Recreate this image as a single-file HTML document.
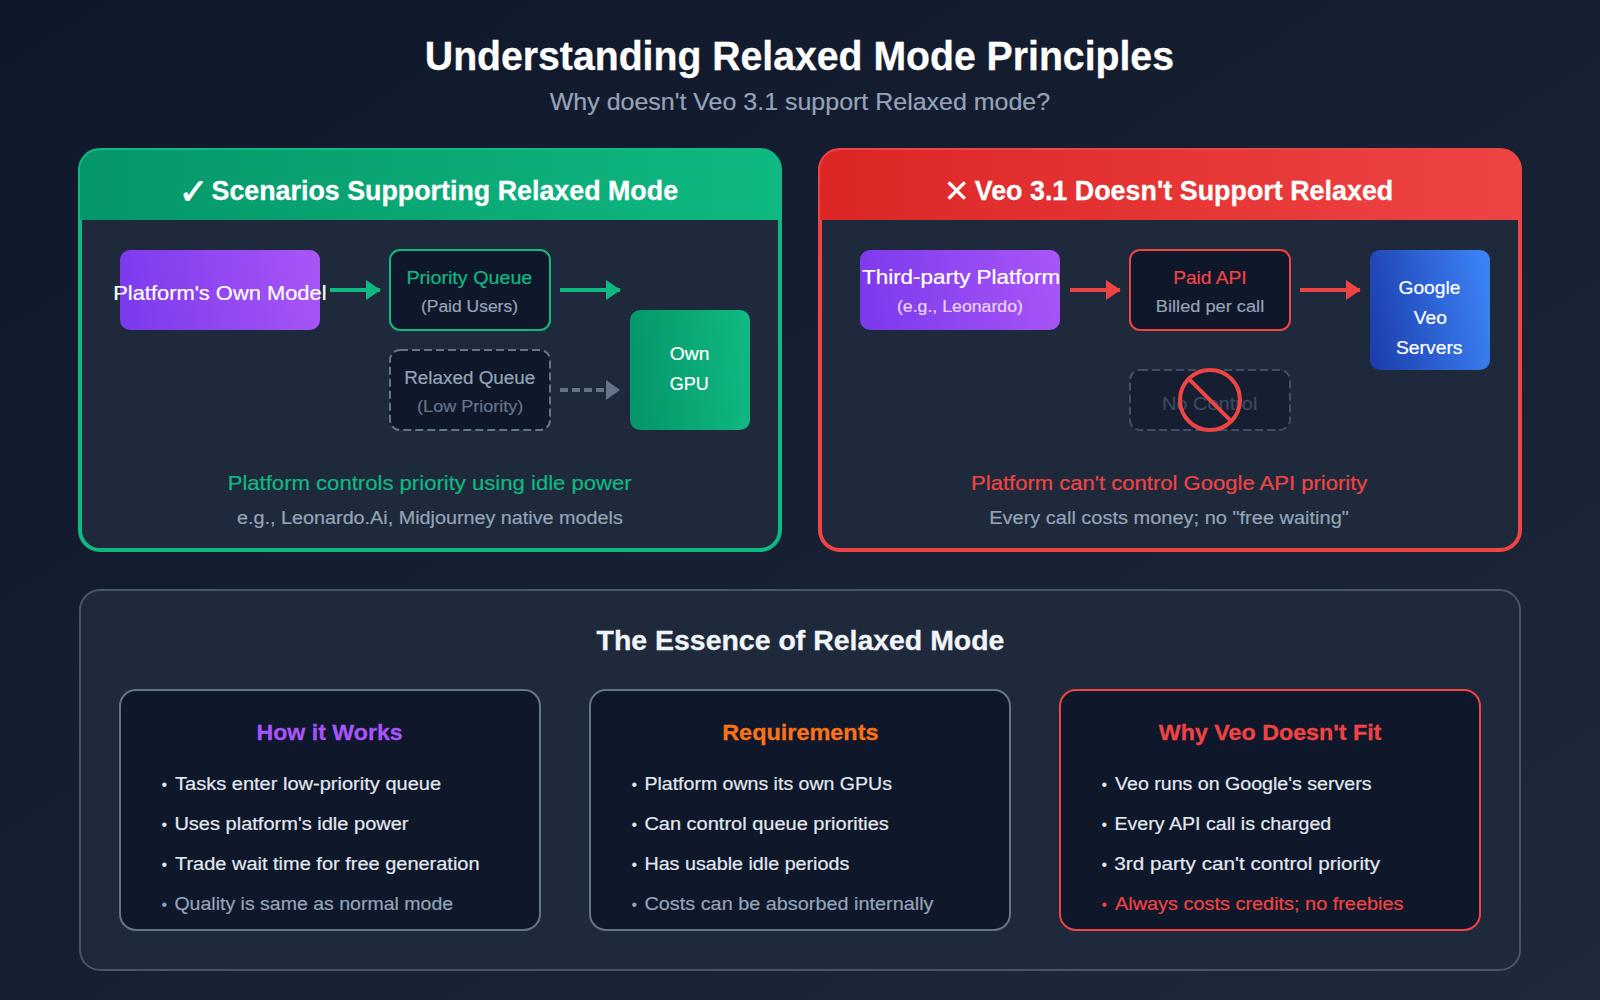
<!DOCTYPE html>
<html lang="en">
<head>
<meta charset="utf-8">
<title>Understanding Relaxed Mode Principles</title>
<style>
html,body{margin:0;padding:0;background:#0f172a;}
body{width:1600px;height:1000px;overflow:hidden;}
svg{display:block;}
text{font-family:"Liberation Sans",sans-serif;}
.ic{font-family:"DejaVu Sans","Liberation Sans",sans-serif;}
</style>
</head>
<body>
<svg width="1600" height="1000" viewBox="0 0 800 500">
<defs>
<linearGradient id="bg" x1="0" y1="0" x2="1" y2="1"><stop offset="0" stop-color="#0f172a"/><stop offset="1" stop-color="#1e293b"/></linearGradient>
<linearGradient id="gr" x1="0" y1="0" x2="1" y2="0"><stop offset="0" stop-color="#059669"/><stop offset="1" stop-color="#10b981"/></linearGradient>
<linearGradient id="grsq" x1="0" y1="0.55" x2="1" y2="0.45"><stop offset="0" stop-color="#059669"/><stop offset="1" stop-color="#10b981"/></linearGradient>
<linearGradient id="rd" x1="0" y1="0" x2="1" y2="0"><stop offset="0" stop-color="#dc2626"/><stop offset="1" stop-color="#ef4444"/></linearGradient>
<linearGradient id="pu" x1="0" y1="0.54" x2="1" y2="0.46"><stop offset="0" stop-color="#7c3aed"/><stop offset="1" stop-color="#a855f7"/></linearGradient>
<linearGradient id="bl" x1="0" y1="0.6" x2="1" y2="0.4"><stop offset="0" stop-color="#1e40af"/><stop offset="1" stop-color="#3b82f6"/></linearGradient>
</defs>
<rect width="800" height="500" fill="url(#bg)"/>

<!-- Title -->
<text x="212.42" y="35" font-size="20.5" font-weight="bold" fill="#ffffff" stroke="#ffffff" stroke-width="0.15" textLength="374.56" lengthAdjust="spacingAndGlyphs">Understanding Relaxed Mode Principles</text>
<text x="274.88" y="55" font-size="11.85" fill="#94a3b8" stroke="#94a3b8" stroke-width="0.1" textLength="250.20" lengthAdjust="spacingAndGlyphs">Why doesn't Veo 3.1 support Relaxed mode?</text>

<!-- Left panel -->
<rect x="40" y="75" width="350" height="200" rx="10" fill="#1e293b" stroke="#10b981" stroke-width="2"/>
<path d="M40,110 V85 a10,10 0 0 1 10,-10 H380 a10,10 0 0 1 10,10 V110 Z" fill="url(#gr)"/>
<text><tspan class="ic" x="89.2" y="101.8" font-size="18" fill="#ffffff" stroke="#ffffff" stroke-width="0.4">✓</tspan> <tspan x="105.75" y="100" font-size="13.4" font-weight="bold" fill="#ffffff" stroke="#ffffff" stroke-width="0.15" textLength="233.28" lengthAdjust="spacingAndGlyphs">Scenarios Supporting Relaxed Mode</tspan></text>

<rect x="60" y="125" width="100" height="40" rx="5" fill="url(#pu)"/>
<text x="56.59" y="150" font-size="10.15" fill="#ffffff" stroke="#ffffff" stroke-width="0.1" textLength="106.69" lengthAdjust="spacingAndGlyphs">Platform's Own Model</text>
<path d="M165,145 H190" stroke="#10b981" stroke-width="2"/><path d="M183,140 L190.4,145 L183,150 Z" fill="#10b981"/>
<rect x="195" y="125" width="80" height="40" rx="5" fill="#0f172a" stroke="#10b981" stroke-width="1"/>
<text x="203.21" y="142" font-size="9.15" fill="#10b981" stroke="#10b981" stroke-width="0.1" textLength="62.96" lengthAdjust="spacingAndGlyphs">Priority Queue</text>
<text x="210.46" y="156" font-size="8.15" fill="#94a3b8" stroke="#94a3b8" stroke-width="0.1" textLength="48.55" lengthAdjust="spacingAndGlyphs">(Paid Users)</text>
<path d="M280,145 H310" stroke="#10b981" stroke-width="2"/><path d="M303,140 L310.4,145 L303,150 Z" fill="#10b981"/>
<rect x="195" y="175" width="80" height="40" rx="5" fill="#0f172a" stroke="#64748b" stroke-width="1" stroke-dasharray="4,2"/>
<text x="202.13" y="192" font-size="9.15" fill="#94a3b8" stroke="#94a3b8" stroke-width="0.1" textLength="65.49" lengthAdjust="spacingAndGlyphs">Relaxed Queue</text>
<text x="208.55" y="206" font-size="8.15" fill="#64748b" stroke="#64748b" stroke-width="0.1" textLength="53.11" lengthAdjust="spacingAndGlyphs">(Low Priority)</text>
<path d="M280,195 H303" stroke="#64748b" stroke-width="2" stroke-dasharray="4,2"/><path d="M303,190 L310,195 L303,200 Z" fill="#64748b"/>
<rect x="315" y="155" width="60" height="60" rx="5" fill="url(#grsq)"/>
<text x="334.85" y="180" font-size="9.15" fill="#ffffff" stroke="#ffffff" stroke-width="0.1" textLength="19.84" lengthAdjust="spacingAndGlyphs">Own</text>
<text x="334.88" y="195" font-size="9.15" fill="#ffffff" stroke="#ffffff" stroke-width="0.1" textLength="19.55" lengthAdjust="spacingAndGlyphs">GPU</text>
<text x="113.83" y="245" font-size="10.15" fill="#10b981" stroke="#10b981" stroke-width="0.1" textLength="202.04" lengthAdjust="spacingAndGlyphs">Platform controls priority using idle power</text>
<text x="118.56" y="262" font-size="9.15" fill="#94a3b8" stroke="#94a3b8" stroke-width="0.1" textLength="192.87" lengthAdjust="spacingAndGlyphs">e.g., Leonardo.Ai, Midjourney native models</text>

<!-- Right panel -->
<rect x="410" y="75" width="350" height="200" rx="10" fill="#1e293b" stroke="#ef4444" stroke-width="2"/>
<path d="M410,110 V85 a10,10 0 0 1 10,-10 H750 a10,10 0 0 1 10,10 V110 Z" fill="url(#rd)"/>
<text><tspan class="ic" x="471.7" y="101.1" font-size="15.75" fill="#ffffff">✕</tspan> <tspan x="487.35" y="100" font-size="13.4" font-weight="bold" fill="#ffffff" stroke="#ffffff" stroke-width="0.15" textLength="209.29" lengthAdjust="spacingAndGlyphs">Veo 3.1 Doesn't Support Relaxed</tspan></text>

<rect x="430" y="125" width="100" height="40" rx="5" fill="url(#pu)"/>
<text x="431.00" y="142" font-size="10.15" fill="#ffffff" stroke="#ffffff" stroke-width="0.1" textLength="99.04" lengthAdjust="spacingAndGlyphs">Third-party Platform</text>
<text x="448.46" y="156" font-size="8.15" fill="#e9d5ff" stroke="#e9d5ff" stroke-width="0.1" textLength="63.01" lengthAdjust="spacingAndGlyphs">(e.g., Leonardo)</text>
<path d="M535,145 H560" stroke="#ef4444" stroke-width="2"/><path d="M553,140 L560.4,145 L553,150 Z" fill="#ef4444"/>
<rect x="565" y="125" width="80" height="40" rx="5" fill="#0f172a" stroke="#ef4444" stroke-width="1"/>
<text x="586.60" y="142" font-size="9.15" fill="#ef4444" stroke="#ef4444" stroke-width="0.1" textLength="36.75" lengthAdjust="spacingAndGlyphs">Paid API</text>
<text x="577.94" y="156" font-size="8.15" fill="#94a3b8" stroke="#94a3b8" stroke-width="0.1" textLength="54.16" lengthAdjust="spacingAndGlyphs">Billed per call</text>
<path d="M650,145 H680" stroke="#ef4444" stroke-width="2"/><path d="M673,140 L680.4,145 L673,150 Z" fill="#ef4444"/>
<rect x="685" y="125" width="60" height="60" rx="5" fill="url(#bl)"/>
<text x="699.22" y="147" font-size="9.15" fill="#ffffff" stroke="#ffffff" stroke-width="0.1" textLength="31.00" lengthAdjust="spacingAndGlyphs">Google</text>
<text x="706.88" y="162" font-size="9.15" fill="#ffffff" stroke="#ffffff" stroke-width="0.1" textLength="16.53" lengthAdjust="spacingAndGlyphs">Veo</text>
<text x="697.97" y="177" font-size="9.15" fill="#ffffff" stroke="#ffffff" stroke-width="0.1" textLength="33.28" lengthAdjust="spacingAndGlyphs">Servers</text>
<rect x="565" y="185" width="80" height="30" rx="5" fill="#0f172a" stroke="#64748b" stroke-width="1" stroke-dasharray="4,2" opacity="0.5"/>
<text x="580.95" y="205" font-size="9.15" fill="#64748b" stroke="#64748b" stroke-width="0.1" textLength="47.76" lengthAdjust="spacingAndGlyphs" opacity="0.5">No Control</text>
<circle cx="605" cy="200" r="15" fill="none" stroke="#ef4444" stroke-width="2"/>
<path d="M594.4,189.4 L615.6,210.6" stroke="#ef4444" stroke-width="2"/>
<text x="485.56" y="245" font-size="10.15" fill="#ef4444" stroke="#ef4444" stroke-width="0.1" textLength="198.12" lengthAdjust="spacingAndGlyphs">Platform can't control Google API priority</text>
<text x="494.60" y="262" font-size="9.15" fill="#94a3b8" stroke="#94a3b8" stroke-width="0.1" textLength="179.84" lengthAdjust="spacingAndGlyphs">Every call costs money; no "free waiting"</text>

<!-- Bottom panel -->
<rect x="40" y="295" width="720" height="190" rx="10" fill="#1e293b" stroke="#475569" stroke-width="1"/>
<text x="298.30" y="325" font-size="13.85" font-weight="bold" fill="#f1f5f9" stroke="#f1f5f9" stroke-width="0.15" textLength="203.91" lengthAdjust="spacingAndGlyphs">The Essence of Relaxed Mode</text>

<rect x="60" y="345" width="210" height="120" rx="8" fill="#0f172a" stroke="#64748b" stroke-width="1"/>
<text x="128.23" y="370" font-size="11.1" font-weight="bold" fill="#a855f7" stroke="#a855f7" stroke-width="0.15" textLength="73.09" lengthAdjust="spacingAndGlyphs">How it Works</text>
<text><tspan x="80.7" y="395.2" font-size="8" fill="#e2e8f0">•</tspan> <tspan x="87.50" y="395" font-size="9.15" fill="#e2e8f0" stroke="#e2e8f0" stroke-width="0.1" textLength="133.04" lengthAdjust="spacingAndGlyphs">Tasks enter low-priority queue</tspan></text>
<text><tspan x="80.7" y="415.2" font-size="8" fill="#e2e8f0">•</tspan> <tspan x="87.20" y="415" font-size="9.15" fill="#e2e8f0" stroke="#e2e8f0" stroke-width="0.1" textLength="117.07" lengthAdjust="spacingAndGlyphs">Uses platform's idle power</tspan></text>
<text><tspan x="80.7" y="435.2" font-size="8" fill="#e2e8f0">•</tspan> <tspan x="87.50" y="435" font-size="9.15" fill="#e2e8f0" stroke="#e2e8f0" stroke-width="0.1" textLength="152.29" lengthAdjust="spacingAndGlyphs">Trade wait time for free generation</tspan></text>
<text><tspan x="80.7" y="455.2" font-size="8" fill="#94a3b8">•</tspan> <tspan x="87.22" y="455" font-size="9.15" fill="#94a3b8" stroke="#94a3b8" stroke-width="0.1" textLength="139.35" lengthAdjust="spacingAndGlyphs">Quality is same as normal mode</tspan></text>

<rect x="295" y="345" width="210" height="120" rx="8" fill="#0f172a" stroke="#64748b" stroke-width="1"/>
<text x="361.10" y="370" font-size="11.1" font-weight="bold" fill="#f97316" stroke="#f97316" stroke-width="0.15" textLength="78.16" lengthAdjust="spacingAndGlyphs">Requirements</text>
<text><tspan x="315.7" y="395.2" font-size="8" fill="#e2e8f0">•</tspan> <tspan x="322.22" y="395" font-size="9.15" fill="#e2e8f0" stroke="#e2e8f0" stroke-width="0.1" textLength="123.75" lengthAdjust="spacingAndGlyphs">Platform owns its own GPUs</tspan></text>
<text><tspan x="315.7" y="415.2" font-size="8" fill="#e2e8f0">•</tspan> <tspan x="322.20" y="415" font-size="9.15" fill="#e2e8f0" stroke="#e2e8f0" stroke-width="0.1" textLength="122.23" lengthAdjust="spacingAndGlyphs">Can control queue priorities</tspan></text>
<text><tspan x="315.7" y="435.2" font-size="8" fill="#e2e8f0">•</tspan> <tspan x="322.21" y="435" font-size="9.15" fill="#e2e8f0" stroke="#e2e8f0" stroke-width="0.1" textLength="102.44" lengthAdjust="spacingAndGlyphs">Has usable idle periods</tspan></text>
<text><tspan x="315.7" y="455.2" font-size="8" fill="#94a3b8">•</tspan> <tspan x="322.21" y="455" font-size="9.15" fill="#94a3b8" stroke="#94a3b8" stroke-width="0.1" textLength="144.55" lengthAdjust="spacingAndGlyphs">Costs can be absorbed internally</tspan></text>

<rect x="530" y="345" width="210" height="120" rx="8" fill="#0f172a" stroke="#ef4444" stroke-width="1"/>
<text x="579.38" y="370" font-size="11.1" font-weight="bold" fill="#ef4444" stroke="#ef4444" stroke-width="0.15" textLength="111.30" lengthAdjust="spacingAndGlyphs">Why Veo Doesn't Fit</text>
<text><tspan x="550.7" y="395.2" font-size="8" fill="#e2e8f0">•</tspan> <tspan x="557.50" y="395" font-size="9.15" fill="#e2e8f0" stroke="#e2e8f0" stroke-width="0.1" textLength="128.26" lengthAdjust="spacingAndGlyphs">Veo runs on Google's servers</tspan></text>
<text><tspan x="550.7" y="415.2" font-size="8" fill="#e2e8f0">•</tspan> <tspan x="557.21" y="415" font-size="9.15" fill="#e2e8f0" stroke="#e2e8f0" stroke-width="0.1" textLength="108.43" lengthAdjust="spacingAndGlyphs">Every API call is charged</tspan></text>
<text><tspan x="550.7" y="435.2" font-size="8" fill="#e2e8f0">•</tspan> <tspan x="557.18" y="435" font-size="9.15" fill="#e2e8f0" stroke="#e2e8f0" stroke-width="0.1" textLength="132.90" lengthAdjust="spacingAndGlyphs">3rd party can't control priority</tspan></text>
<text><tspan x="550.7" y="455.2" font-size="8" fill="#ef4444">•</tspan> <tspan x="557.50" y="455" font-size="9.15" fill="#ef4444" stroke="#ef4444" stroke-width="0.1" textLength="144.23" lengthAdjust="spacingAndGlyphs">Always costs credits; no freebies</tspan></text>
</svg>
</body>
</html>
